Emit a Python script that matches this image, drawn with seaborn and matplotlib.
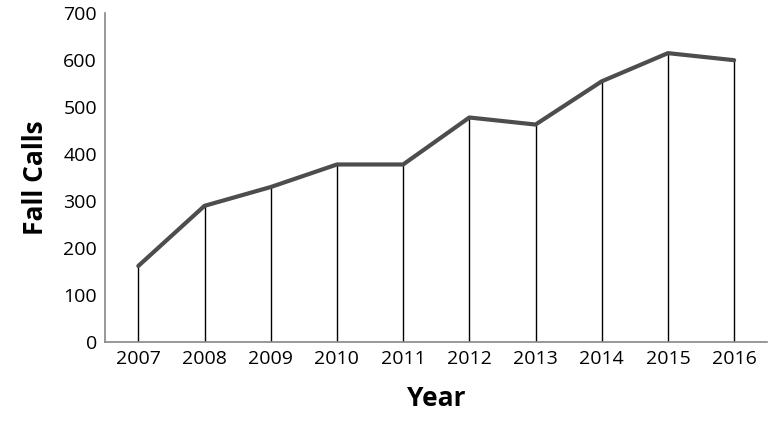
import matplotlib
matplotlib.use("Agg")
import matplotlib.pyplot as plt
import seaborn as sns
import pandas as pd

years = [2007, 2008, 2009, 2010, 2011, 2012, 2013, 2014, 2015, 2016]
fall_calls = [162, 290, 330, 378, 378, 478, 463, 555, 615, 600]

sns.set_theme(style="white")
plt.rcParams['font.family'] = ['Open Sans', 'DejaVu Sans']

df = pd.DataFrame({'year': years, 'calls': fall_calls})

fig = plt.figure(figsize=(7.68, 4.26), dpi=100)
ax = fig.add_axes([0.137, 0.197, 0.862, 0.772])

# vertical drop lines from each point
ax.vlines(df['year'], 0, df['calls'], color='black', linewidth=1)
sns.lineplot(data=df, x='year', y='calls', color='#4d4d4d', linewidth=3, ax=ax)

ax.set_xlim(2006.5, 2016.5)
ax.set_ylim(0, 700)
ax.set_xticks(years)
ax.set_yticks(range(0, 701, 100))
ax.tick_params(axis='both', labelsize=14, length=0, pad=6, labelcolor='black')

ax.set_xlabel("Year", fontsize=19, fontweight='bold', labelpad=12, color='black')
ax.set_ylabel("Fall Calls", fontsize=19, fontweight='bold', labelpad=10, color='black')

for s in ['top', 'right']:
    ax.spines[s].set_visible(False)
for s in ['bottom', 'left']:
    ax.spines[s].set_color('#868686')
    ax.spines[s].set_linewidth(1.2)

fig.savefig("out.png", dpi=100)
plt.close(fig)
